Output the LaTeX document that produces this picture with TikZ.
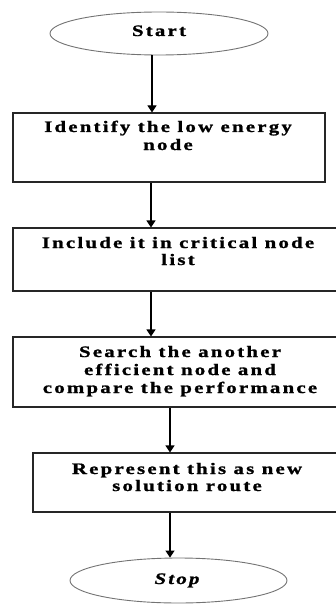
\documentclass[tikz,border=0pt]{standalone}
\usepackage{fontspec}
\newfontfamily\wide{Liberation Serif}[LetterSpace=14,FakeStretch=1.3,FakeBold=1.2]
\usetikzlibrary{arrows.meta,shapes.geometric}
\begin{document}
\begin{tikzpicture}[x=1pt,y=-1pt,
  box/.style={draw=black!85, line width=1.1pt, inner sep=0, rectangle},
  oval/.style={draw=black!55, line width=0.9pt, ellipse, inner sep=0},
  ln/.style={anchor=base, inner sep=0, font=\wide\bfseries\fontsize{16}{18}\selectfont},
  arr/.style={draw=black, line width=1.1pt, -{Triangle[width=9pt,length=7pt]}}]
\useasboundingbox (0,0) rectangle (336,604);
\clip (0,0) rectangle (336,604);
% shapes
\node[oval, minimum width=218, minimum height=43] (start) at (159,33.5) {};
\node[box, minimum width=312, minimum height=69] (b1) at (169,147.5) {};
\node[box, minimum width=332, minimum height=63] (b2) at (179,259.5) {};
\node[box, minimum width=338, minimum height=70] (b3) at (182,372) {};
\node[box, minimum width=310, minimum height=59] (b4) at (188,482.5) {};
\node[oval, minimum width=217, minimum height=45] (stop) at (178.5,580.5) {};
% texts
\node[ln] (ts) at (159,36) {Start};
\node[ln] (t1a) at (168,132) {Identify the low energy};
\node[ln] (t1b) at (168,150) {node};
\node[ln] (t2a) at (178,248) {Include it in critical node};
\node[ln] (t2b) at (178,265) {list};
\node[ln] (t3a) at (180,357) {Search the another};
\node[ln] (t3b) at (180,375) {efficient node and};
\node[ln] (t3c) at (180,393) {compare the performance};
\node[ln] (t4a) at (187,474) {Represent this as new};
\node[ln] (t4b) at (187,491) {solution route};
\node[ln, font=\wide\bfseries\itshape\fontsize{16}{18}\selectfont] (tp) at (177,584) {Stop};
% arrows
\coordinate (xa) at (152,0);
\coordinate (xb) at (151,0);
\coordinate (xc) at (170,0);
\draw[arr] (xa |- start.south) -- (xa |- b1.north);
\draw[arr] (xb |- b1.south) -- (xb |- b2.north);
\draw[arr] (xb |- b2.south) -- (xb |- b3.north);
\draw[arr] (xc |- b3.south) -- (xc |- b4.north);
\draw[arr] (xc |- b4.south) -- (xc |- stop.north);
\end{tikzpicture}
\end{document}
